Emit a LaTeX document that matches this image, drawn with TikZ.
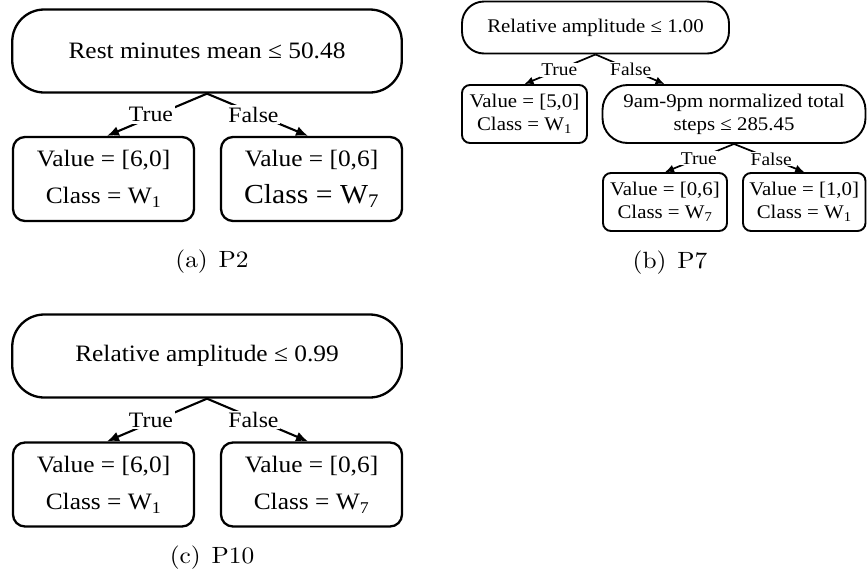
\documentclass[tikz,border=0pt]{standalone}
\usepackage{fontspec}
\usepackage{graphicx}
\usetikzlibrary{arrows.meta,calc}
\newfontfamily\tms{Liberation Serif}
\newfontfamily\capfont{lmroman10-regular.otf}
\newcommand\sx[1]{\scalebox{1.08}[1]{#1}}
\begin{document}
\begin{tikzpicture}[x=1pt,y=-1pt,
  boxA/.style={draw, line width=2.3pt, rounded corners=12pt, minimum width=181pt, minimum height=84pt, inner sep=0pt, align=center, font=\tms\fontsize{23.5}{37}\selectfont},
  rootA/.style={boxA, rounded corners=32pt, minimum width=389.5pt, minimum height=83pt},
  boxB/.style={draw, line width=1.9pt, rounded corners=8pt, minimum height=58pt, inner sep=0pt, align=center, font=\tms\fontsize{19.3}{23}\selectfont},
  rootB/.style={boxB, rounded corners=22pt},
  linkA/.style={line width=2.1pt, -{Latex[length=12pt,width=10pt]}},
  linkB/.style={line width=1.7pt, -{Latex[length=9pt,width=8pt]}},
  labA/.style={fill=white, inner sep=1.5pt, font=\tms\fontsize{22}{26}\selectfont},
  labB/.style={fill=white, inner sep=1pt, font=\tms\fontsize{18}{22}\selectfont},
  capt/.style={anchor=base, font=\capfont\fontsize{23.5}{28}\selectfont}
]
\fill[white] (0,0) rectangle (867,574);
\useasboundingbox (0,0) rectangle (867,574);

% (a)
\node[rootA] (aroot) at (207,51) {\sx{Rest minutes mean ≤ 50.48}};
\node[boxA] (aL) at (103.5,179) {\sx{Value = [6,0]}\\\sx{Class = W\textsubscript{1}}};
\node[boxA] (aR) at (311.5,179) {\sx{Value = [0,6]}\\\sx{\fontsize{27.5}{37}\selectfont Class = W\textsubscript{7}}};
\draw[linkA] (aroot.south) -- node[labA, pos=.56, yshift=2.5pt]{\sx{True}} ($(aL.north)+(3.5,0)$);
\draw[linkA] (aroot.south) -- node[labA, pos=.46, yshift=-1.5pt]{\sx{False}} ($(aR.north)+(-3.5,0)$);
\node[capt] (acap) at (212,267) {\sx{(a)\hspace{10pt}P2}};

% (c)
\node[rootA] (croot) at (207,356) {\sx{Relative amplitude ≤ 0.99}};
\node[boxA] (cL) at (103.5,484.5) {\sx{Value = [6,0]}\\\sx{Class = W\textsubscript{1}}};
\node[boxA] (cR) at (311.5,484.5) {\sx{Value = [0,6]}\\\sx{Class = W\textsubscript{7}}};
\draw[linkA] (croot.south) -- node[labA, pos=.56, yshift=2.5pt]{\sx{True}} ($(cL.north)+(3.5,0)$);
\draw[linkA] (croot.south) -- node[labA, pos=.46, yshift=-1.5pt]{\sx{False}} ($(cR.north)+(-3.5,0)$);
\node[capt] (ccap) at (212,563) {\sx{(c)\hspace{10pt}P10}};

% (b)
\node[rootB, minimum width=267pt, minimum height=52pt] (broot) at (595.5,27.5) {\sx{Relative amplitude ≤ 1.00}};
\node[boxB, minimum width=125pt] (bL) at (524.5,114) {\sx{Value = [5,0]}\\\sx{Class = W\textsubscript{1}}};
\node[rootB, rounded corners=25pt, minimum width=263pt] (bM) at (734,114) {\sx{9am-9pm normalized total}\\\sx{steps ≤ 285.45}};
\node[boxB, minimum width=124pt] (bC) at (665,202) {\sx{Value = [0,6]}\\\sx{Class = W\textsubscript{7}}};
\node[boxB, minimum width=122.5pt] (bD) at (804.25,202) {\sx{Value = [1,0]}\\\sx{Class = W\textsubscript{1}}};
\draw[linkB] (broot.south) -- node[labB, pos=.51]{\sx{True}} (bL.north);
\draw[linkB] (broot.south) -- node[labB, pos=.51]{\sx{False}} ($(bM.north west)+(63,0)$);
\draw[linkB] (bM.south) -- node[labB, pos=.51]{\sx{True}} (bC.north);
\draw[linkB] (bM.south) -- node[labB, pos=.53]{\sx{False}} (bD.north);
\node[capt] (bcap) at (670,268) {\sx{(b)\hspace{10pt}P7}};
\end{tikzpicture}
\end{document}
